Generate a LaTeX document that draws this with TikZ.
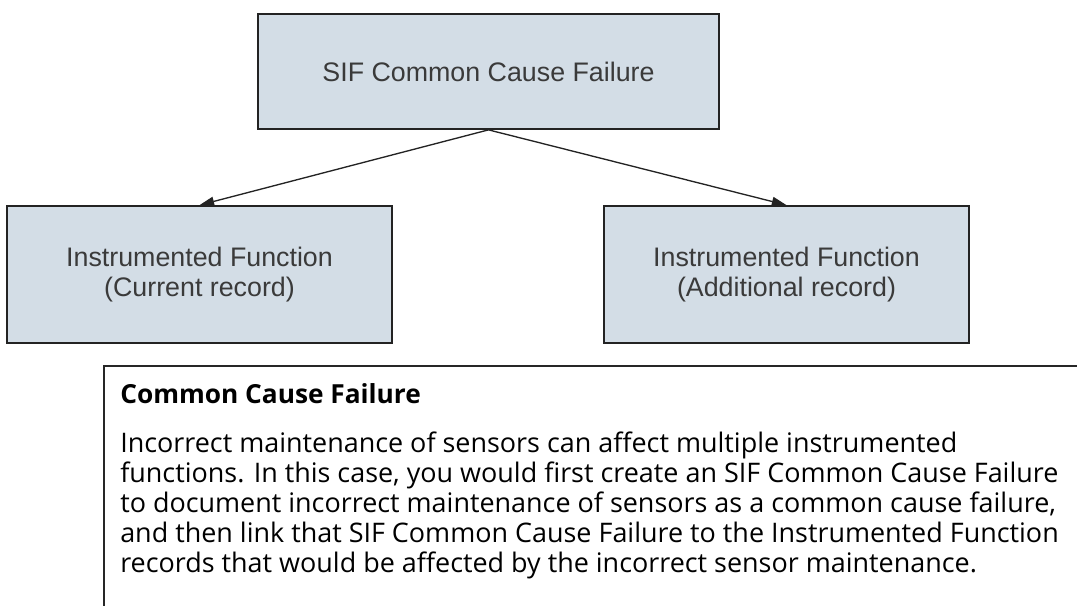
\documentclass[tikz,border=0pt]{standalone}
\usepackage{fontspec}
\setmainfont{Liberation Sans}
\newfontfamily\notefont{Open Sans}
\usepackage{xcolor}
\definecolor{boxfill}{RGB}{211,221,230}
\definecolor{boxtext}{RGB}{58,58,58}
\definecolor{boxline}{RGB}{35,35,35}
\usetikzlibrary{arrows.meta, positioning}

\begin{document}
\begin{tikzpicture}[
  x=0.75pt, y=-0.75pt,
  box/.style={rectangle, draw=boxline, line width=1.3pt, fill=boxfill,
              minimum height=102.75pt, align=center, inner sep=0pt,
              font=\fontsize{20.1}{22.5}\selectfont, text=boxtext},
  link/.style={-{Triangle[length=11pt,width=7pt]}, line width=1pt, draw=boxline},
  notetext/.style={inner sep=0pt, align=left, text=black,
                   font=\notefont\fontsize{20.2}{22.5}\selectfont}
]
  \useasboundingbox (0,0) rectangle (1077,606);

  % Boxes
  \node[box, minimum width=345.75pt, minimum height=86.25pt] (sif) at (488.5,71.5)  {SIF Common Cause Failure};
  \node[box, minimum width=288.75pt] (cur) at (199.5,274.5) {Instrumented Function\\(Current record)};
  \node[box, minimum width=273.75pt] (add) at (786.5,274.5) {Instrumented Function\\(Additional record)};

  % Links
  \draw[link] (sif.south) -- (cur.north);
  \draw[link] (sif.south) -- (add.north);

  % Note
  \draw[line width=1.5pt, black!85] (1077,366) -- (104,366) -- (104,606);
  \node[notetext, anchor=base west, font=\notefont\bfseries\fontsize{19.7}{22.5}\selectfont] (notetitle) at (120,403) {Common Cause Failure};
  \node[notetext, anchor=north west] (notebody) at (120,432)
    {Incorrect maintenance of sensors can affect multiple instrumented\\
     functions. In this case, you would first create an SIF Common Cause Failure\\
     to document incorrect maintenance of sensors as a common cause failure,\\
     and then link that SIF Common Cause Failure to the Instrumented Function\\
     records that would be affected by the incorrect sensor maintenance.};
\end{tikzpicture}
\end{document}
